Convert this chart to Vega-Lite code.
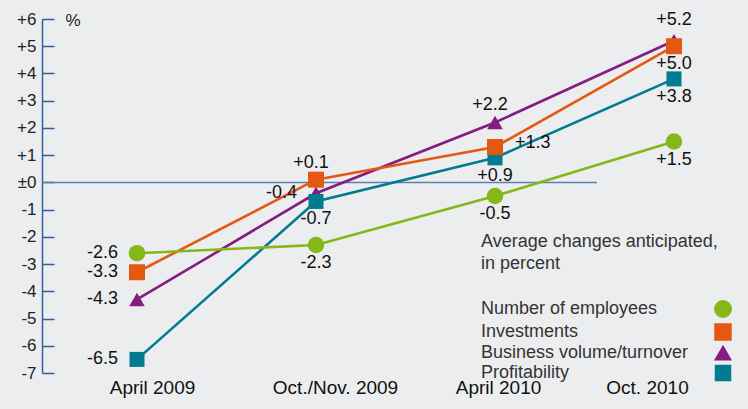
{
  "$schema": "https://vega.github.io/schema/vega-lite/v6.json",
  "width": 706,
  "height": 354,
  "autosize": "none",
  "padding": {"left": 42, "top": 19, "right": 0, "bottom": 36},
  "background": "#ecedee",
  "config": {"view": {"stroke": null}, "font": "Liberation Sans"},
  "data": {
    "values": [
      {"series": "Business volume/turnover", "period": "April 2009", "value": -4.3},
      {"series": "Business volume/turnover", "period": "Oct./Nov. 2009", "value": -0.4},
      {"series": "Business volume/turnover", "period": "April 2010", "value": 2.2},
      {"series": "Business volume/turnover", "period": "Oct. 2010", "value": 5.2},
      {"series": "Profitability", "period": "April 2009", "value": -6.5},
      {"series": "Profitability", "period": "Oct./Nov. 2009", "value": -0.7},
      {"series": "Profitability", "period": "April 2010", "value": 0.9},
      {"series": "Profitability", "period": "Oct. 2010", "value": 3.8},
      {"series": "Investments", "period": "April 2009", "value": -3.3},
      {"series": "Investments", "period": "Oct./Nov. 2009", "value": 0.1},
      {"series": "Investments", "period": "April 2010", "value": 1.3},
      {"series": "Investments", "period": "Oct. 2010", "value": 5.0},
      {"series": "Number of employees", "period": "April 2009", "value": -2.6},
      {"series": "Number of employees", "period": "Oct./Nov. 2009", "value": -2.3},
      {"series": "Number of employees", "period": "April 2010", "value": -0.5},
      {"series": "Number of employees", "period": "Oct. 2010", "value": 1.5}
    ]
  },
  "transform": [
    {"calculate": "replace(format(datum.value, '+.1f'), '\u2212', '-')", "as": "lbl"}
  ],
  "encoding": {
    "x": {
      "field": "period",
      "type": "ordinal",
      "sort": null,
      "scale": {"type": "point", "domain": ["April 2009", "Oct./Nov. 2009", "April 2010", "Oct. 2010"], "range": [95, 632], "padding": 0},
      "axis": {
        "title": null,
        "domain": false,
        "ticks": false,
        "labelAngle": 0,
        "labelFontSize": 19,
        "labelColor": "#111111",
        "labelPadding": 5,
        "labelOffset": {
          "condition": [
            {"test": "datum.value == 'April 2009'", "value": 15},
            {"test": "datum.value == 'Oct./Nov. 2009'", "value": 19},
            {"test": "datum.value == 'April 2010'", "value": 3}
          ],
          "value": -27
        }
      }
    },
    "y": {
      "field": "value",
      "type": "quantitative",
      "scale": {"domain": [-7, 6], "nice": false, "zero": false},
      "axis": {
        "values": [-7, -6, -5, -4, -3, -2, -1, 0, 1, 2, 3, 4, 5, 6],
        "labelExpr": "datum.value > 0 ? '+' + datum.value : (datum.value == 0 ? '\u00b10' : '-' + abs(datum.value))",
        "grid": false,
        "domainColor": "#2f5f9f",
        "domainWidth": 1.5,
        "tickColor": "#2f5f9f",
        "tickWidth": 1.5,
        "tickSize": -12,
        "labelPadding": 18,
        "labelFontSize": 17,
        "labelColor": "#222222",
        "title": "%",
        "titleAngle": 0,
        "titleX": 23,
        "titleY": 1,
        "titleAlign": "left",
        "titleBaseline": "middle",
        "titleFontSize": 17,
        "titleFontWeight": "normal",
        "titleColor": "#222222"
      }
    }
  },
  "layer": [
    {
      "data": {"values": [{"start": "April 2009", "end": "Oct. 2010", "level": 0}]},
      "mark": {"type": "rule", "color": "#5a80b4", "strokeWidth": 1.5, "xOffset": -95, "x2Offset": -77},
      "encoding": {
        "x": {"field": "start", "type": "ordinal"},
        "x2": {"field": "end"},
        "y": {"field": "level", "type": "quantitative"}
      }
    },
    {
      "mark": {"type": "line", "strokeWidth": 2.6},
      "encoding": {
        "color": {
          "field": "series",
          "type": "nominal",
          "scale": {
            "domain": ["Number of employees", "Investments", "Business volume/turnover", "Profitability"],
            "range": ["#84b819", "#e35914", "#851c7f", "#007b91"]
          }
        },
        "detail": {"field": "series"}
      }
    },
    {
      "mark": {"type": "point", "filled": true, "opacity": 1},
      "encoding": {
        "color": {
          "field": "series",
          "type": "nominal",
          "legend": {
            "orient": "none",
            "legendX": 439,
            "legendY": 214,
            "title": ["Average changes anticipated,", "in percent"],
            "titleFontSize": 18,
            "titleFontWeight": "normal",
            "titleColor": "#333333",
            "titleLineHeight": 22,
            "titlePadding": 27,
            "titleLimit": 400,
            "labelFontSize": 18,
            "labelColor": "#333333",
            "labelLimit": 400,
            "labelOffset": -251,
            "symbolOffset": 233,
            "rowPadding": -1,
            "symbolOpacity": 1,
            "padding": 0
          }
        },
        "shape": {
          "field": "series",
          "type": "nominal",
          "scale": {
            "domain": ["Number of employees", "Investments", "Business volume/turnover", "Profitability"],
            "range": ["circle", "square", "triangle-up", "square"]
          },
          "legend": {
            "title": ["Average changes anticipated,", "in percent"]
          }
        },
        "size": {
          "field": "series",
          "type": "nominal",
          "scale": {
            "domain": ["Number of employees", "Investments", "Business volume/turnover", "Profitability"],
            "range": [272, 225, 470, 225]
          },
          "legend": {
            "title": ["Average changes anticipated,", "in percent"]
          }
        }
      }
    },
    {
      "transform": [{"filter": "datum.period == 'April 2009' || (datum.period == 'Oct./Nov. 2009' && datum.series == 'Business volume/turnover')"}],
      "mark": {"type": "text", "align": "right", "baseline": "middle", "dx": -19, "fontSize": 18, "color": "#111111"},
      "encoding": {"text": {"field": "lbl"}}
    },
    {
      "transform": [{"filter": "datum.period == 'April 2010' && datum.series == 'Investments'"}],
      "mark": {"type": "text", "align": "left", "baseline": "middle", "dx": 20, "dy": -4, "fontSize": 18, "color": "#111111"},
      "encoding": {"text": {"field": "lbl"}}
    },
    {
      "transform": [{"filter": "(datum.period == 'Oct./Nov. 2009' && datum.series == 'Investments') || (datum.period == 'April 2010' && datum.series == 'Business volume/turnover')"}],
      "mark": {"type": "text", "align": "center", "baseline": "middle", "dx": -5, "dy": -17, "fontSize": 18, "color": "#111111"},
      "encoding": {"text": {"field": "lbl"}}
    },
    {
      "transform": [{"filter": "datum.period == 'Oct. 2010' && datum.series == 'Business volume/turnover'"}],
      "mark": {"type": "text", "align": "center", "baseline": "middle", "dy": -21, "fontSize": 18, "color": "#111111"},
      "encoding": {"text": {"field": "lbl"}}
    },
    {
      "transform": [{"filter": "(datum.period == 'Oct./Nov. 2009' && (datum.series == 'Profitability' || datum.series == 'Number of employees')) || (datum.period == 'April 2010' && (datum.series == 'Profitability' || datum.series == 'Number of employees')) || (datum.period == 'Oct. 2010' && datum.series != 'Business volume/turnover')"}],
      "mark": {"type": "text", "align": "center", "baseline": "middle", "dy": 18, "fontSize": 18, "color": "#111111"},
      "encoding": {"text": {"field": "lbl"}}
    }
  ]
}
